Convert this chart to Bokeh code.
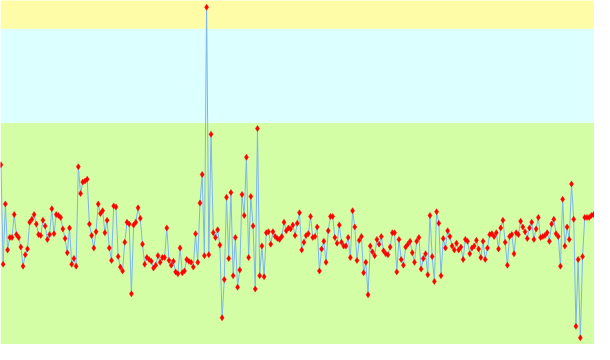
from bokeh.plotting import figure
from bokeh.models import Range1d, BoxAnnotation, ColumnDataSource
from bokeh.embed import file_html
from bokeh.resources import INLINE

# Series values (arbitrary units), one per sample
values = [
    188, 84, 147, 99, 112, 112, 136, 115, 112, 102,
    82, 94, 100, 128, 131, 136, 126, 115, 114, 130,
    124, 110, 115, 142, 116, 136, 135, 133, 121, 111,
    96, 122, 84, 90, 82, 186, 158, 170, 171, 173,
    126, 114, 101, 118, 147, 137, 140, 117, 130, 101,
    88, 145, 144, 92, 81, 77, 107, 128, 126, 53,
    125, 128, 143, 132, 105, 84, 91, 89, 87, 80,
    83, 93, 86, 91, 91, 122, 88, 83, 87, 76,
    74, 101, 75, 77, 89, 87, 86, 81, 116, 86,
    148, 178, 93, 353, 94, 220, 117, 112, 120, 104,
    28, 68, 154, 90, 159, 72, 112, 60, 78, 157,
    135, 196, 91, 155, 124, 58, 226, 72, 103, 71,
    117, 118, 105, 118, 113, 111, 110, 113, 128, 119,
    122, 121, 125, 114, 127, 138, 99, 107, 114, 116,
    134, 112, 113, 123, 77, 100, 108, 86, 119, 134,
    134, 112, 106, 125, 107, 103, 103, 112, 91, 140,
    123, 88, 109, 113, 75, 86, 52, 103, 97, 93,
    110, 105, 113, 98, 95, 94, 102, 117, 117, 76,
    110, 89, 83, 102, 105, 108, 96, 86, 108, 112,
    79, 90, 95, 73, 135, 92, 66, 139, 127, 72,
    111, 101, 119, 113, 103, 99, 106, 99, 102, 89,
    110, 108, 95, 101, 103, 109, 100, 91, 108, 89,
    101, 115, 116, 113, 117, 100, 122, 130, 107, 83,
    113, 115, 95, 117, 115, 129, 123, 118, 111, 122,
    128, 110, 121, 133, 112, 113, 114, 117, 108, 126,
    131, 116, 113, 82, 152, 103, 123, 110, 168, 131,
    19, 89, 7, 92, 133, 133, 133, 135, 136, 137,
]
samples = list(range(len(values)))

# Background bands (value limits)
band_green = (0, 232)
band_cyan = (232, 330.5)
band_yellow = (330.5, 400)

src = ColumnDataSource(data=dict(x=samples, y=values))

p = figure(width=594, height=344, output_backend="svg", toolbar_location=None,
           x_range=Range1d(-0.2, 268.4), y_range=Range1d(0, 360),
           min_border=0, min_border_left=0, min_border_right=0,
           min_border_top=0, min_border_bottom=0)
p.xaxis.visible = False
p.yaxis.visible = False
p.grid.visible = False
p.outline_line_color = None
p.background_fill_color = "white"
p.border_fill_color = "white"

p.add_layout(BoxAnnotation(bottom=band_green[0] - 50, top=band_green[1],
                           fill_color="#d4fea6", fill_alpha=1, line_color=None, level="underlay"))
p.add_layout(BoxAnnotation(bottom=band_cyan[0], top=band_cyan[1],
                           fill_color="#dcffff", fill_alpha=1, line_color=None, level="underlay"))
p.add_layout(BoxAnnotation(bottom=band_yellow[0], top=band_yellow[1],
                           fill_color="#fffca8", fill_alpha=1, line_color=None, level="underlay"))

p.line("x", "y", source=src, line_color="#7cb5ec", line_width=1)
p.scatter("x", "y", source=src, marker="diamond", size=6, fill_color="red",
          line_color="red", line_width=0.5)

open("out.html", "w").write(file_html(p, INLINE))
